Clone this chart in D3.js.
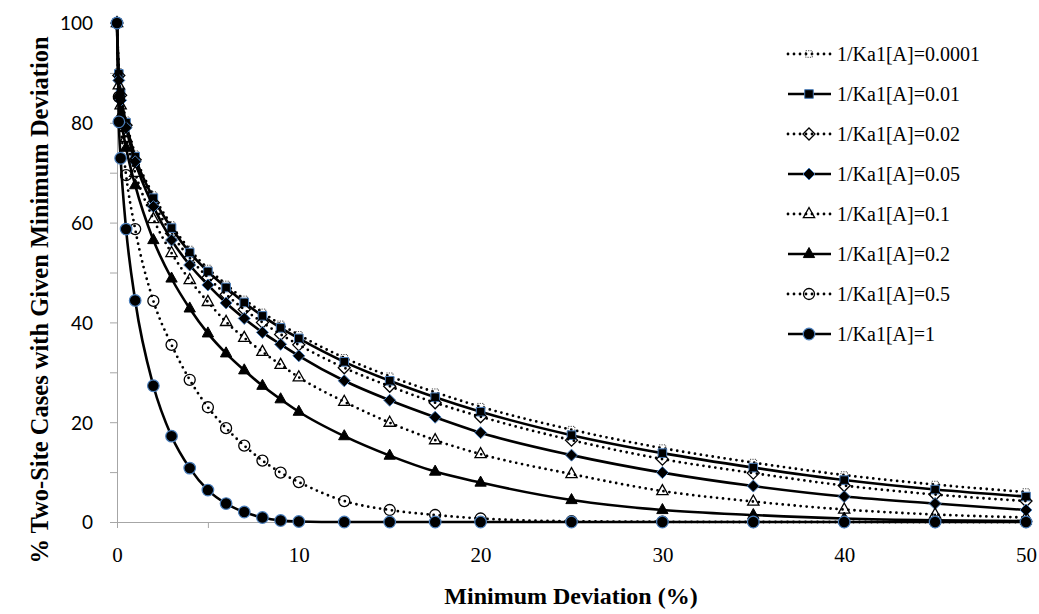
<!DOCTYPE html>
<html>
<head>
  <meta charset="utf-8">
  <title>Two-Site Cases with Given Minimum Deviation</title>
  <script src="https://d3js.org/d3.v7.min.js"></script>
  <style>
    body { margin: 0; background: #fff; }
    .axis path, .axis line { stroke: #a6a6a6; }
  </style>
</head>
<body>
  <svg id="chart"></svg>

  <script type="text/javascript">
    const svg_width = 1039;
    const svg_height = 614;

    // minimum deviation (%)
    var devs = [0, 0.1, 0.2, 0.5, 1, 2, 3, 4, 5, 6, 7, 8, 9, 10, 12.5, 15, 17.5, 20, 25, 30, 35, 40, 45, 50];

    // % two-site cases, one array per 1/Ka1[A]
    var k0001 = [100, 90.2, 86.5, 80.5, 73.7, 65.5, 59.5, 54.6, 50.8, 47.6, 44.6, 42.0, 39.6, 37.5, 32.9, 29.2, 26.0, 23.1, 18.5, 14.8, 11.9, 9.4, 7.5, 6.0];
    var k01 = [100, 89.8, 86.0, 80.0, 73.2, 64.9, 58.9, 54.0, 50.2, 47.0, 44.0, 41.3, 38.9, 36.8, 32.1, 28.3, 25.0, 22.1, 17.4, 13.8, 10.9, 8.4, 6.5, 5.1];
    var k02 = [100, 89.5, 85.5, 79.5, 72.6, 64.0, 57.8, 52.9, 49.0, 45.6, 42.6, 40.0, 37.6, 35.5, 30.9, 27.2, 23.9, 21.1, 16.4, 12.6, 9.8, 7.3, 5.5, 4.2];
    var k05 = [100, 88.5, 84.5, 79.0, 72.2, 63.2, 56.5, 51.5, 47.5, 43.9, 40.8, 38.0, 35.6, 33.3, 28.3, 24.4, 21.0, 17.9, 13.4, 9.9, 7.2, 5.1, 3.7, 2.4];
    var k1 = [100, 87.5, 83.5, 77.0, 70.0, 60.7, 53.9, 48.5, 44.1, 40.1, 36.9, 34.1, 31.5, 29.0, 24.1, 19.9, 16.4, 13.6, 9.6, 6.2, 4.1, 2.5, 1.5, 0.9];
    var k2 = [100, 85.5, 81.5, 75.0, 67.5, 56.5, 48.8, 42.8, 37.8, 33.8, 30.4, 27.3, 24.6, 22.1, 17.2, 13.3, 10.1, 7.9, 4.4, 2.4, 1.4, 0.7, 0.35, 0.2];
    var k5 = [100, 85.2, 80.0, 69.5, 58.7, 44.3, 35.5, 28.5, 23.0, 18.8, 15.3, 12.3, 9.9, 8.0, 4.2, 2.4, 1.4, 0.7, 0.15, 0.05, 0, 0, 0, 0];
    var k10 = [100, 80.2, 72.9, 58.7, 44.4, 27.3, 17.2, 10.8, 6.4, 3.7, 2.0, 0.9, 0.3, 0.1, 0, 0, 0, 0, 0, 0, 0, 0, 0, 0];

    var names = ["1/Ka1[A]=0.0001", "1/Ka1[A]=0.01", "1/Ka1[A]=0.02", "1/Ka1[A]=0.05",
      "1/Ka1[A]=0.1", "1/Ka1[A]=0.2", "1/Ka1[A]=0.5", "1/Ka1[A]=1"];
    var values = [k0001, k01, k02, k05, k1, k2, k5, k10];

    var xTicks = d3.range(0, 51, 5);
    var yTicks = d3.range(0, 101, 10);

    // look of each series
    var blue = "#4a7ebb";
    var looks = [
      { dotted: true, shape: "square", r: 3.3, fill: "none", stroke: "#333", sw: 0.9, dash: "1.2 1.2" },
      { dotted: false, shape: "square", r: 4.3, fill: "#000", stroke: blue, sw: 1 },
      { dotted: true, shape: "diamond", r: 6, fill: "none", stroke: "#000", sw: 1.3 },
      { dotted: false, shape: "diamond", r: 6, fill: "#000", stroke: blue, sw: 1 },
      { dotted: true, shape: "triangle", r: 6.5, fill: "none", stroke: "#000", sw: 1.3 },
      { dotted: false, shape: "triangle", r: 6.5, fill: "#000", stroke: "#000", sw: 1 },
      { dotted: true, shape: "circle", r: 5.5, fill: "none", stroke: "#000", sw: 1.3 },
      { dotted: false, shape: "circle", r: 5.8, fill: "#000", stroke: blue, sw: 1.2 }
    ];

    var x = d3.scaleLinear().domain([0, 50]).range([117, 1026]);
    var y = d3.scaleLinear().domain([0, 100]).range([522, 23]);

    var svg = d3.select("#chart")
      .attr("width", svg_width)
      .attr("height", svg_height);

    // axes
    var xAxis = d3.axisBottom(x)
      .tickValues(xTicks)
      .tickSize(6)
      .tickSizeOuter(0)
      .tickFormat(function(d) { return d % 10 === 0 ? d : ""; });

    var yAxis = d3.axisLeft(y)
      .tickValues(yTicks)
      .tickSize(7)
      .tickSizeOuter(0)
      .tickFormat(function(d) { return d % 20 === 0 ? d : ""; });

    var gx = svg.append("g")
      .attr("class", "axis")
      .attr("transform", "translate(0," + y(0) + ")")
      .call(xAxis);
    gx.selectAll(".tick text")
      .attr("y", 40)
      .attr("dy", 0)
      .style("font-family", "'Liberation Serif', 'Times New Roman', serif")
      .style("font-size", "21px")
      .style("fill", "#000");

    var gy = svg.append("g")
      .attr("class", "axis")
      .attr("transform", "translate(" + x(0) + ",0)")
      .call(yAxis);
    gy.selectAll(".tick text")
      .attr("x", -24)
      .attr("dy", "0.36em")
      .style("font-family", "Lato, 'Open Sans', sans-serif")
      .style("font-size", "19px")
      .style("fill", "#000");

    // axis titles
    svg.append("text")
      .attr("x", 571)
      .attr("y", 604)
      .attr("text-anchor", "middle")
      .style("font-family", "'Liberation Serif', 'Times New Roman', serif")
      .style("font-weight", "bold")
      .style("font-size", "24px")
      .text("Minimum Deviation (%)");

    svg.append("text")
      .attr("transform", "translate(48,300) rotate(-90)")
      .attr("text-anchor", "middle")
      .style("font-family", "'Liberation Serif', 'Times New Roman', serif")
      .style("font-weight", "bold")
      .style("font-size", "24.5px")
      .text("% Two-Site Cases with Given Minimum Deviation");

    function shapePath(shape, r) {
      if (shape === "square") {
        return "M" + (-r) + "," + (-r) + "h" + (2 * r) + "v" + (2 * r) + "h" + (-2 * r) + "Z";
      }
      if (shape === "diamond") {
        return "M0," + (-r) + "L" + r + ",0L0," + r + "L" + (-r) + ",0Z";
      }
      if (shape === "triangle") {
        return "M0," + (-r) + "L" + (r * 0.87) + "," + (r * 0.55) + "L" + (-r * 0.87) + "," + (r * 0.55) + "Z";
      }
      return d3.symbol().type(d3.symbolCircle).size(Math.PI * r * r)();
    }

    function styleLine(sel, look) {
      sel.attr("fill", "none")
        .attr("stroke", "#000");
      if (look.dotted) {
        sel.attr("stroke-width", 2.8)
          .attr("stroke-linecap", "round")
          .attr("stroke-dasharray", "0 6");
      } else {
        sel.attr("stroke-width", 2.6);
      }
    }

    function styleMarker(sel, look) {
      sel.attr("d", shapePath(look.shape, look.r))
        .attr("fill", look.fill)
        .attr("stroke", look.stroke)
        .attr("stroke-width", look.sw)
        .attr("stroke-dasharray", look.dash ? look.dash : null);
    }

    var line = d3.line()
      .x(function(d) { return x(d[0]); })
      .y(function(d) { return y(d[1]); })
      .curve(d3.curveMonotoneX);

    values.forEach(function(vals, i) {
      var pts = devs.map(function(d, j) { return [d, vals[j]]; });
      var g = svg.append("g").attr("class", "series");

      g.append("path")
        .attr("d", line(pts))
        .call(styleLine, looks[i]);

      g.selectAll(".mark")
        .data(pts)
        .enter().append("path")
        .attr("class", "mark")
        .attr("transform", function(d) {
          return "translate(" + x(d[0]) + "," + y(d[1]) + ")";
        })
        .call(styleMarker, looks[i]);
    });

    // legend
    var legend = svg.selectAll(".legend")
      .data(names)
      .enter().append("g")
      .attr("class", "legend")
      .attr("transform", function(d, i) {
        return "translate(787," + (54 + i * 40) + ")";
      });

    legend.append("line")
      .attr("x1", 1)
      .attr("x2", 44)
      .each(function(d, i) {
        d3.select(this).call(styleLine, looks[i]);
      });

    legend.append("path")
      .attr("transform", "translate(22,0)")
      .each(function(d, i) {
        d3.select(this).call(styleMarker, looks[i]);
      });

    legend.append("text")
      .attr("x", 50)
      .attr("dy", "0.33em")
      .style("font-family", "'Liberation Serif', 'Times New Roman', serif")
      .style("font-size", "20px")
      .text(function(d) { return d; });
  </script>
</body>
</html>
